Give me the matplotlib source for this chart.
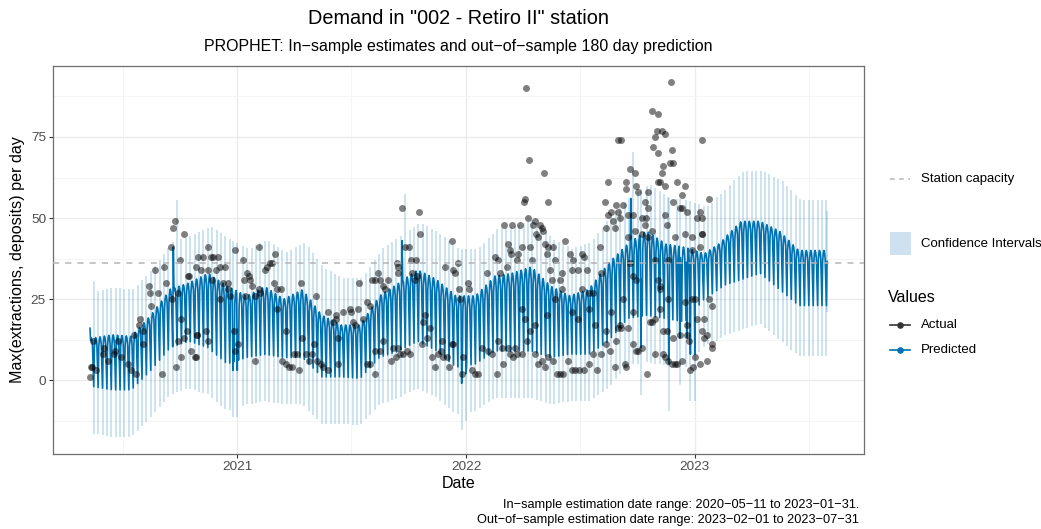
import numpy as np
import matplotlib.pyplot as plt

plt.rcParams['font.family'] = ['Liberation Sans', 'DejaVu Sans']

start = np.datetime64('2020-05-11')
last_in_sample = np.datetime64('2023-01-31')
end = np.datetime64('2023-07-31')
capacity = 36

# Prophet fit, monthly level of the weekday peak and the sunday trough (May 2020 .. Jul 2023)
pred_high = [13, 14, 13.5, 20, 28, 30, 33, 29,
             26, 29, 25, 28, 20, 17, 17, 26, 30, 34, 31, 26,
             26, 32, 33, 35, 29, 26, 28, 36, 42, 46, 42, 41,
             39, 43, 49, 49, 46, 40, 40]
pred_low = [-2, -3, -3, 3, 10, 12, 10, 5,
            7, 8, 7, 7, 1, 1, 0.5, 7, 9, 12, 9, 4,
            5, 9, 9, 9, 7, 8, 8, 12, 19, 20, 19, 18,
            25, 29, 31, 33, 28, 23, 23]
# weekly seasonality, Mon..Sun (0 = trough, 1 = peak)
week_shape = [0.80, 0.95, 1.00, 0.96, 0.85, 0.45, 0.0]
# days (since 2020-05-11) where the holiday terms move the estimate
holidays = [(0, 16), (133, 41), (228, 3), (235, 3), (498, 43), (593, -1), (600, 2),
            (863, 56), (879, 10), (924, 5), (941, 13), (953, 13), (958, 8), (965, 8)]
ci_in, ci_out = 14.5, 15.5

# observed daily max (day since 2020-05-11, value)
actual_2020 = [(0, 1), (2, 4), (3, 4), (5, 12), (10, 3), (20, 8), (22, 10), (29, 6), (38, 8), (40, 9),
               (45, 12), (49, 7), (60, 5), (65, 3), (70, 14), (73, 2), (78, 17), (80, 19), (84, 15),
               (85, 11), (94, 29), (95, 27), (97, 23), (103, 34), (108, 27), (115, 2), (118, 35),
               (121, 30), (129, 41), (131, 25), (132, 47), (135, 49), (138, 4), (140, 12), (140, 27),
               (143, 37), (145, 19), (146, 7), (150, 45), (150, 13), (155, 15), (156, 32), (158, 32),
               (161, 9), (167, 7), (169, 35), (169, 7), (170, 14), (171, 14), (173, 38), (177, 34),
               (181, 38), (185, 15), (188, 12), (189, 41), (189, 34), (193, 38), (194, 31), (197, 38),
               (201, 34), (205, 38), (208, 35), (208, 25), (212, 30), (216, 35), (220, 30), (221, 28),
               (224, 26), (229, 15), (232, 40), (232, 9)]
actual_2021 = [(236, 11), (244, 37), (245, 31), (247, 26), (251, 33), (253, 32), (256, 31), (259, 29),
               (263, 26), (264, 6), (269, 41), (269, 28), (272, 27), (280, 34), (283, 35), (288, 36),
               (291, 36), (293, 30), (296, 39), (299, 28), (299, 22), (304, 28), (307, 6), (312, 5),
               (312, 15), (317, 4), (323, 4), (325, 8), (331, 8), (334, 3), (336, 30), (339, 13),
               (344, 8), (349, 6), (355, 8), (357, 11), (360, 26), (363, 6), (369, 5), (372, 4),
               (380, 21), (380, 3), (387, 18), (392, 19), (392, 20), (395, 13), (396, 5), (403, 21),
               (415, 22), (417, 21), (420, 18), (423, 17), (428, 22), (430, 30), (436, 19), (442, 24),
               (442, 5), (446, 23), (447, 5), (450, 31), (454, 2), (455, 31), (455, 9), (460, 33),
               (463, 31), (463, 9), (468, 29), (468, 12), (471, 28), (476, 31), (481, 6), (484, 10),
               (489, 7), (490, 36), (492, 10), (492, 35), (492, 33), (495, 8), (498, 53), (500, 8),
               (503, 41), (506, 9), (509, 41), (511, 8), (512, 37), (514, 33), (519, 31), (520, 37),
               (522, 32), (525, 52), (527, 45), (530, 11), (532, 18), (535, 20), (538, 13), (543, 16),
               (546, 7), (551, 4), (555, 8), (560, 9), (562, 12), (563, 7), (567, 35), (570, 7),
               (573, 4), (578, 43), (578, 11), (579, 34), (580, 11), (583, 33), (587, 36), (589, 28),
               (590, 25), (594, 2), (595, 7)]
actual_2022 = [(603, 30), (605, 28), (610, 3), (614, 2), (619, 2), (625, 10), (633, 33), (635, 9),
               (641, 8), (646, 38), (649, 2), (651, 37), (651, 12), (654, 33), (657, 10), (659, 5),
               (661, 48), (665, 35), (667, 42), (667, 10), (670, 40), (670, 8), (672, 39), (673, 48),
               (675, 7), (678, 10), (681, 37), (681, 8), (683, 39), (686, 48), (689, 41), (689, 8),
               (689, 22), (692, 55), (694, 56), (694, 19), (696, 90), (697, 12), (699, 50), (700, 68),
               (702, 41), (702, 15), (705, 37), (707, 48), (710, 49), (710, 8), (710, 17), (711, 45),
               (715, 44), (715, 5), (718, 48), (721, 47), (721, 6), (723, 46), (724, 64), (726, 42),
               (726, 4), (729, 39), (729, 20), (731, 55), (731, 41), (731, 7), (734, 34), (737, 31),
               (738, 41), (738, 6), (742, 37), (742, 25), (745, 2), (750, 31), (750, 2), (753, 33),
               (753, 28), (754, 2), (758, 43), (762, 6), (766, 39), (769, 34), (769, 3), (769, 21),
               (770, 37), (774, 3), (778, 34), (778, 19), (781, 3), (785, 39), (785, 28), (789, 38),
               (789, 3), (793, 34), (797, 27), (797, 5), (797, 22), (802, 27), (802, 8), (805, 17),
               (809, 3), (813, 41), (816, 33), (816, 8), (821, 55), (824, 47), (824, 11), (824, 15),
               (826, 61), (826, 51), (829, 9), (832, 52), (832, 21), (834, 49), (837, 47), (837, 4),
               (840, 54), (840, 12), (842, 74), (842, 52), (842, 16), (845, 50), (845, 17), (847, 16),
               (848, 74), (850, 54), (850, 25), (853, 5), (855, 4), (856, 61), (856, 59), (858, 51),
               (858, 44), (858, 16), (861, 65), (861, 36), (866, 51), (866, 32), (866, 21), (866, 11),
               (869, 64), (869, 46), (872, 60), (872, 31), (872, 9), (874, 58), (874, 9), (880, 50),
               (880, 45), (880, 10), (885, 55), (885, 48), (887, 50), (888, 2), (890, 58), (890, 44),
               (891, 53), (893, 18), (896, 83), (896, 46), (896, 18), (898, 72), (901, 75), (901, 37),
               (901, 19), (901, 8), (904, 77), (906, 82), (906, 70), (906, 61), (906, 31), (909, 61),
               (909, 29), (909, 22), (909, 28), (912, 77), (912, 64), (914, 66), (914, 15), (914, 8),
               (917, 76), (917, 60), (917, 51), (917, 7), (920, 48), (920, 15), (922, 37), (922, 25),
               (922, 6), (925, 67), (927, 92), (928, 71), (928, 5), (930, 67), (930, 55), (930, 13),
               (933, 44), (933, 5), (937, 61), (937, 5), (941, 53), (941, 14), (944, 6), (945, 57),
               (945, 53), (949, 45), (949, 24), (950, 60), (952, 52), (952, 17), (953, 14), (955, 12),
               (957, 3), (960, 44), (960, 40), (960, 25), (962, 4)]
actual_2023 = [(965, 25), (965, 7), (968, 50), (969, 19), (973, 52), (973, 41), (973, 5), (976, 74),
               (976, 45), (977, 50), (977, 45), (977, 15), (980, 19), (980, 13), (985, 14), (985, 6),
               (988, 56), (988, 25), (992, 23), (992, 11), (993, 10)]


def smooth(a, w=31):
    # rolling mean so the month-to-month levels don't show as steps
    pad = np.pad(a, w // 2, mode='edge')
    return np.convolve(pad, np.ones(w) / w, mode='valid')


# daily prediction = smoothed monthly level + weekly shape, holidays on top
dates = np.arange(start, end + 1)
day = (dates - start).astype(int)
month = (dates.astype('datetime64[M]') - start.astype('datetime64[M]')).astype(int)
weekday = (dates.astype(int) + 3) % 7
hi = smooth(np.array(pred_high, dtype=float)[month])
lo = smooth(np.array(pred_low, dtype=float)[month])
yhat = lo + (hi - lo) * np.array(week_shape)[weekday]
for d, v in holidays:
    yhat[d] = v
half = np.where(dates <= last_in_sample, ci_in, ci_out)
upper = yhat + half
lower = yhat - half

actual = np.array(actual_2020 + actual_2021 + actual_2022 + actual_2023, dtype=float)
act_dates = start + actual[:, 0].astype(int)
act_vals = actual[:, 1]

blue = '#0072B2'
fig = plt.figure(figsize=(10.41, 5.29), dpi=100)
ax = fig.add_axes([53 / 1041, 75 / 529, 811 / 1041, 388 / 529])

# confidence band: one stroke per week from the lowest lower bound to the highest upper bound
week = day // 7
for w in np.unique(week):
    idx = week == w
    xw = dates[idx][np.argmin(yhat[idx])]
    ax.vlines(xw, lower[idx].min(), upper[idx].max(), color=blue, alpha=0.2, lw=1.4, zorder=2)

ax.plot(dates, yhat, color=blue, lw=1.2, zorder=3)
ax.scatter(act_dates, act_vals, s=25, color='black', alpha=0.5, linewidths=0, zorder=4)
ax.axhline(capacity, color='#b5b5b5', lw=1.1, ls=(0, (4, 4)), zorder=5)

ax.set_xlim(np.datetime64('2020-03-13'), np.datetime64('2023-09-28'))
ax.set_ylim(-22.8, 96.9)
years = [np.datetime64('2021-01-01'), np.datetime64('2022-01-01'), np.datetime64('2023-01-01')]
ax.set_xticks(years)
ax.set_xticklabels(['2021', '2022', '2023'])
ax.set_xticks([np.datetime64(f'{y}-07-02') for y in range(2020, 2024)], minor=True)
ax.set_yticks([0, 25, 50, 75])
ax.set_yticks([-12.5, 12.5, 37.5, 62.5, 87.5], minor=True)
ax.grid(which='major', color='#ebebeb', lw=1.0)
ax.grid(which='minor', color='#f4f4f4', lw=0.6)
ax.set_axisbelow(True)
ax.tick_params(which='major', length=3, color='#333333', labelcolor='#4d4d4d', labelsize=9.7, pad=2)
ax.tick_params(which='minor', length=0)
for s in ax.spines.values():
    s.set_color('#6e6e6e')
    s.set_linewidth(0.9)
ax.set_xlabel('Date', fontsize=11.5, labelpad=2)
ax.set_ylabel('Max(extractions, deposits) per day', fontsize=11.6, labelpad=4)

fig.text(458 / 1041, 1 - 18 / 529, 'Demand in "002 - Retiro II" station',
         ha='center', va='center', fontsize=14.3)
fig.text(458 / 1041, 1 - 47 / 529,
         'PROPHET: In\u2212sample estimates and out\u2212of\u2212sample 180 day prediction',
         ha='center', va='center', fontsize=11.5)
fig.text(859 / 1041, 1 - 505 / 529,
         'In\u2212sample estimation date range: 2020\u221205\u221211 to 2023\u221201\u221231.',
         ha='right', va='center', fontsize=9.2)
fig.text(859 / 1041, 1 - 520 / 529,
         'Out\u2212of\u2212sample estimation date range: 2023\u221202\u221201 to 2023\u221207\u221231',
         ha='right', va='center', fontsize=9.2)

# legend drawn in figure pixels
lax = fig.add_axes([0, 0, 1, 1])
lax.set_xlim(0, 1041)
lax.set_ylim(529, 0)
lax.axis('off')
lax.plot([890, 910], [179, 179], color='#b5b5b5', lw=1.1, ls=(0, (3, 3)))
lax.text(921, 179, 'Station capacity', va='center', fontsize=9.5)
lax.add_patch(plt.Rectangle((890, 232), 21, 23, color='#cfe1f1', lw=0))
lax.text(921, 244, 'Confidence Intervals', va='center', fontsize=9.5)
lax.text(888, 297, 'Values', va='center', fontsize=11.5)
lax.plot([890, 910], [325, 325], color='#333333', lw=1.2)
lax.scatter([900], [325], s=14, color='#333333', zorder=3)
lax.text(921, 325, 'Actual', va='center', fontsize=9.5)
lax.plot([890, 910], [350, 350], color=blue, lw=1.2)
lax.scatter([900], [350], s=14, color=blue, zorder=3)
lax.text(921, 350, 'Predicted', va='center', fontsize=9.5)

fig.savefig('out.png', dpi=100)
